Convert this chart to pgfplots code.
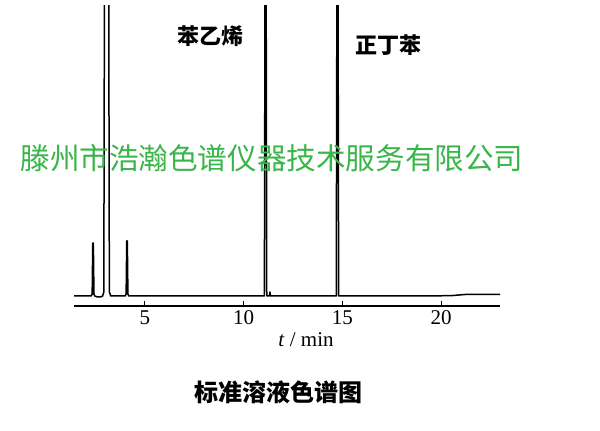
\documentclass[border=0pt]{standalone}
\usepackage{fontspec}
\setmainfont{Liberation Serif}
\newfontfamily\cjk{Noto Sans CJK SC}
\usepackage{pgfplots}
\pgfplotsset{compat=1.18}
\definecolor{wmgreen}{RGB}{57,181,74}

\begin{document}
\begin{tikzpicture}
% canvas: 600 x 431, axis box lower-left at (0,0)
\useasboundingbox (-74pt,-125pt) rectangle (526pt,306pt);
\begin{axis}[
  scale only axis,
  width=426pt, height=300pt,
  xmin=1.41, xmax=22.98,
  ymin=-10, ymax=290,
  hide y axis,
  axis x line=bottom,
  x axis line style={-, line width=1.4pt},
  xtick={5,10,15,20},
  tick align=inside,
  major tick length=5pt,
  tick style={black, line width=1.1pt},
  xticklabel style={font=\fontsize{21}{21}\selectfont, yshift=-1pt},
  /pgf/number format/assume math mode=true,
  clip=true,
]
\addplot[black, line width=1.5pt, line join=round] coordinates {
  (1.41,0) (2.28,0) (2.33,2) (2.36,53) (2.39,53) (2.42,2) (2.46,0)
  (2.60,-1) (2.75,-1) (2.86,0) (2.92,4) (2.95,300)
  (3.17,300) (3.20,4) (3.27,0)
  (4.00,0) (4.05,2) (4.08,55) (4.11,55) (4.14,2) (4.18,0)
  (11.05,0) (11.08,300) (11.14,300) (11.17,0)
  (11.30,0) (11.33,4) (11.36,0)
  (14.69,0) (14.72,300) (14.78,300) (14.81,0)
  (19.5,0) (20.6,0.5) (21.2,1.5) (22.98,1.5)
};
\end{axis}
% axis title and peak labels
\node[font=\fontsize{21}{21}\selectfont] at (232pt,-34pt) {\textit{t} / min};
\node[font=\cjk\bfseries\fontsize{22}{22}\selectfont] at (136pt,270pt) {苯乙烯};
\node[font=\cjk\bfseries\fontsize{22}{22}\selectfont] at (314pt,261pt) {正丁苯};
% caption
\node[font=\cjk\bfseries\fontsize{24}{24}\selectfont] at (204pt,-86pt) {标准溶液色谱图};
% green company text across the plot
\node[font=\cjk\fontsize{29.6}{29.6}\selectfont, text=wmgreen] at (198pt,148pt) {滕州市浩瀚色谱仪器技术服务有限公司};
\end{tikzpicture}
\end{document}
